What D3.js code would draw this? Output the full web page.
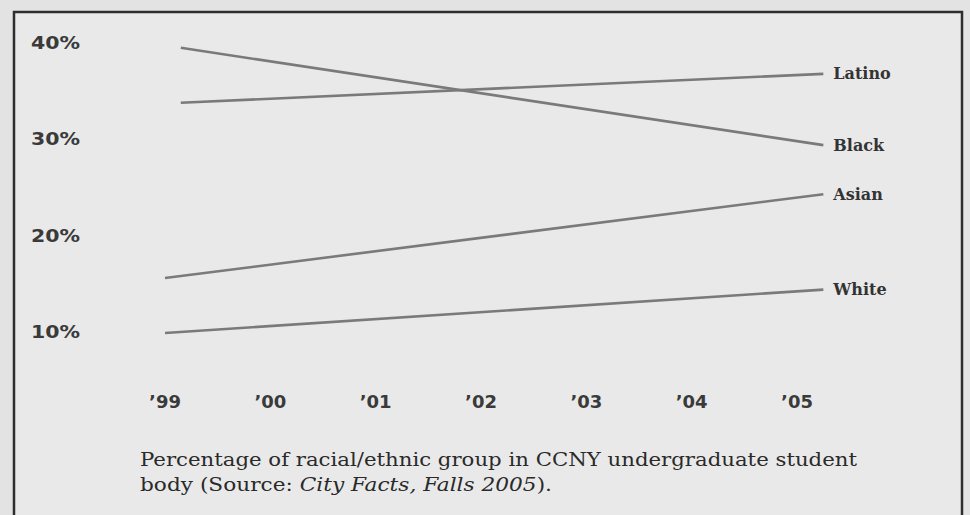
<!DOCTYPE html>
<html>
<head>
<meta charset="utf-8">
<script src="https://cdn.jsdelivr.net/npm/d3@7"></script>
<style>
  body { margin: 0; background: #e3e3e3; }
  svg { display: block; }
</style>
</head>
<body>
<div id="chart"></div>
<script>
// Data (percent of undergraduates)
const groups = ["Latino", "Black", "Asian", "White"];
const startYears = [1999.15, 1999.15, 1999, 1999];
const endYears = [2005.25, 2005.25, 2005.25, 2005.25];
const startValues = [33.8, 39.5, 15.6, 9.9];
const endValues = [36.8, 29.4, 24.3, 14.4];
const yearTicks = [1999, 2000, 2001, 2002, 2003, 2004, 2005];
const yearLabels = ["’99", "’00", "’01", "’02", "’03", "’04", "’05"];
const pctTicks = [40, 30, 20, 10];
const captionLines = [
  [{ t: "Percentage of racial/ethnic group in CCNY undergraduate student", i: false }],
  [{ t: "body (Source: ", i: false }, { t: "City Facts, Falls 2005", i: true }, { t: ").", i: false }]
];
const captionWidths = [717, 412];

const width = 970;
const height = 515;

const svg = d3.select("#chart").append("svg").attr("width", width).attr("height", height);

// paper box
svg.append("rect")
  .attr("x", 14).attr("y", 12)
  .attr("width", 948).attr("height", 520)
  .attr("fill", "#e9e9e9")
  .attr("stroke", "#2e2e2e")
  .attr("stroke-width", 2.5);

const x = d3.scaleLinear().domain([1999, 2005]).range([165, 797]);
const y = d3.scaleLinear().domain([10, 40]).range([332, 43]);

// y tick labels
svg.append("g")
  .selectAll("text")
  .data(pctTicks)
  .join("text")
  .attr("x", 31)
  .attr("y", (d) => y(d))
  .attr("dy", "0.36em")
  .attr("font-family", "DejaVu Sans")
  .attr("font-size", 17)
  .attr("font-weight", "bold")
  .attr("fill", "#3a3a3a")
  .attr("textLength", 49)
  .attr("lengthAdjust", "spacingAndGlyphs")
  .text((d) => d + "%");

// x tick labels
svg.append("g")
  .selectAll("text")
  .data(yearTicks)
  .join("text")
  .attr("x", (d) => x(d))
  .attr("y", 408)
  .attr("text-anchor", "middle")
  .attr("font-family", "DejaVu Sans")
  .attr("font-size", 18)
  .attr("font-weight", "bold")
  .attr("fill", "#3a3a3a")
  .text((d, i) => yearLabels[i]);

// lines
const series = groups.map((g, i) => ({
  name: g,
  points: [
    { year: startYears[i], value: startValues[i] },
    { year: endYears[i], value: endValues[i] }
  ]
}));

const line = d3.line().x((d) => x(d.year)).y((d) => y(d.value));

svg.append("g")
  .selectAll("path")
  .data(series)
  .join("path")
  .attr("d", (d) => line(d.points))
  .attr("fill", "none")
  .attr("stroke", "#7a7a7a")
  .attr("stroke-width", 2.6);

// end labels
svg.append("g")
  .selectAll("text")
  .data(series)
  .join("text")
  .attr("x", (d) => x(d.points[1].year) + 10)
  .attr("y", (d) => y(d.points[1].value))
  .attr("dy", "0.35em")
  .attr("font-family", "DejaVu Serif")
  .attr("font-size", 16)
  .attr("font-weight", "bold")
  .attr("fill", "#333")
  .text((d) => d.name);

// caption
const caption = svg.append("g").attr("font-family", "DejaVu Serif").attr("font-size", 19).attr("fill", "#2a2a2a");
captionLines.forEach((parts, li) => {
  const t = caption.append("text")
    .attr("x", 140).attr("y", 466 + li * 25)
    .attr("textLength", captionWidths[li])
    .attr("lengthAdjust", "spacingAndGlyphs");
  parts.forEach((p) => {
    t.append("tspan").attr("font-style", p.i ? "italic" : "normal").text(p.t);
  });
});
</script>
</body>
</html>
